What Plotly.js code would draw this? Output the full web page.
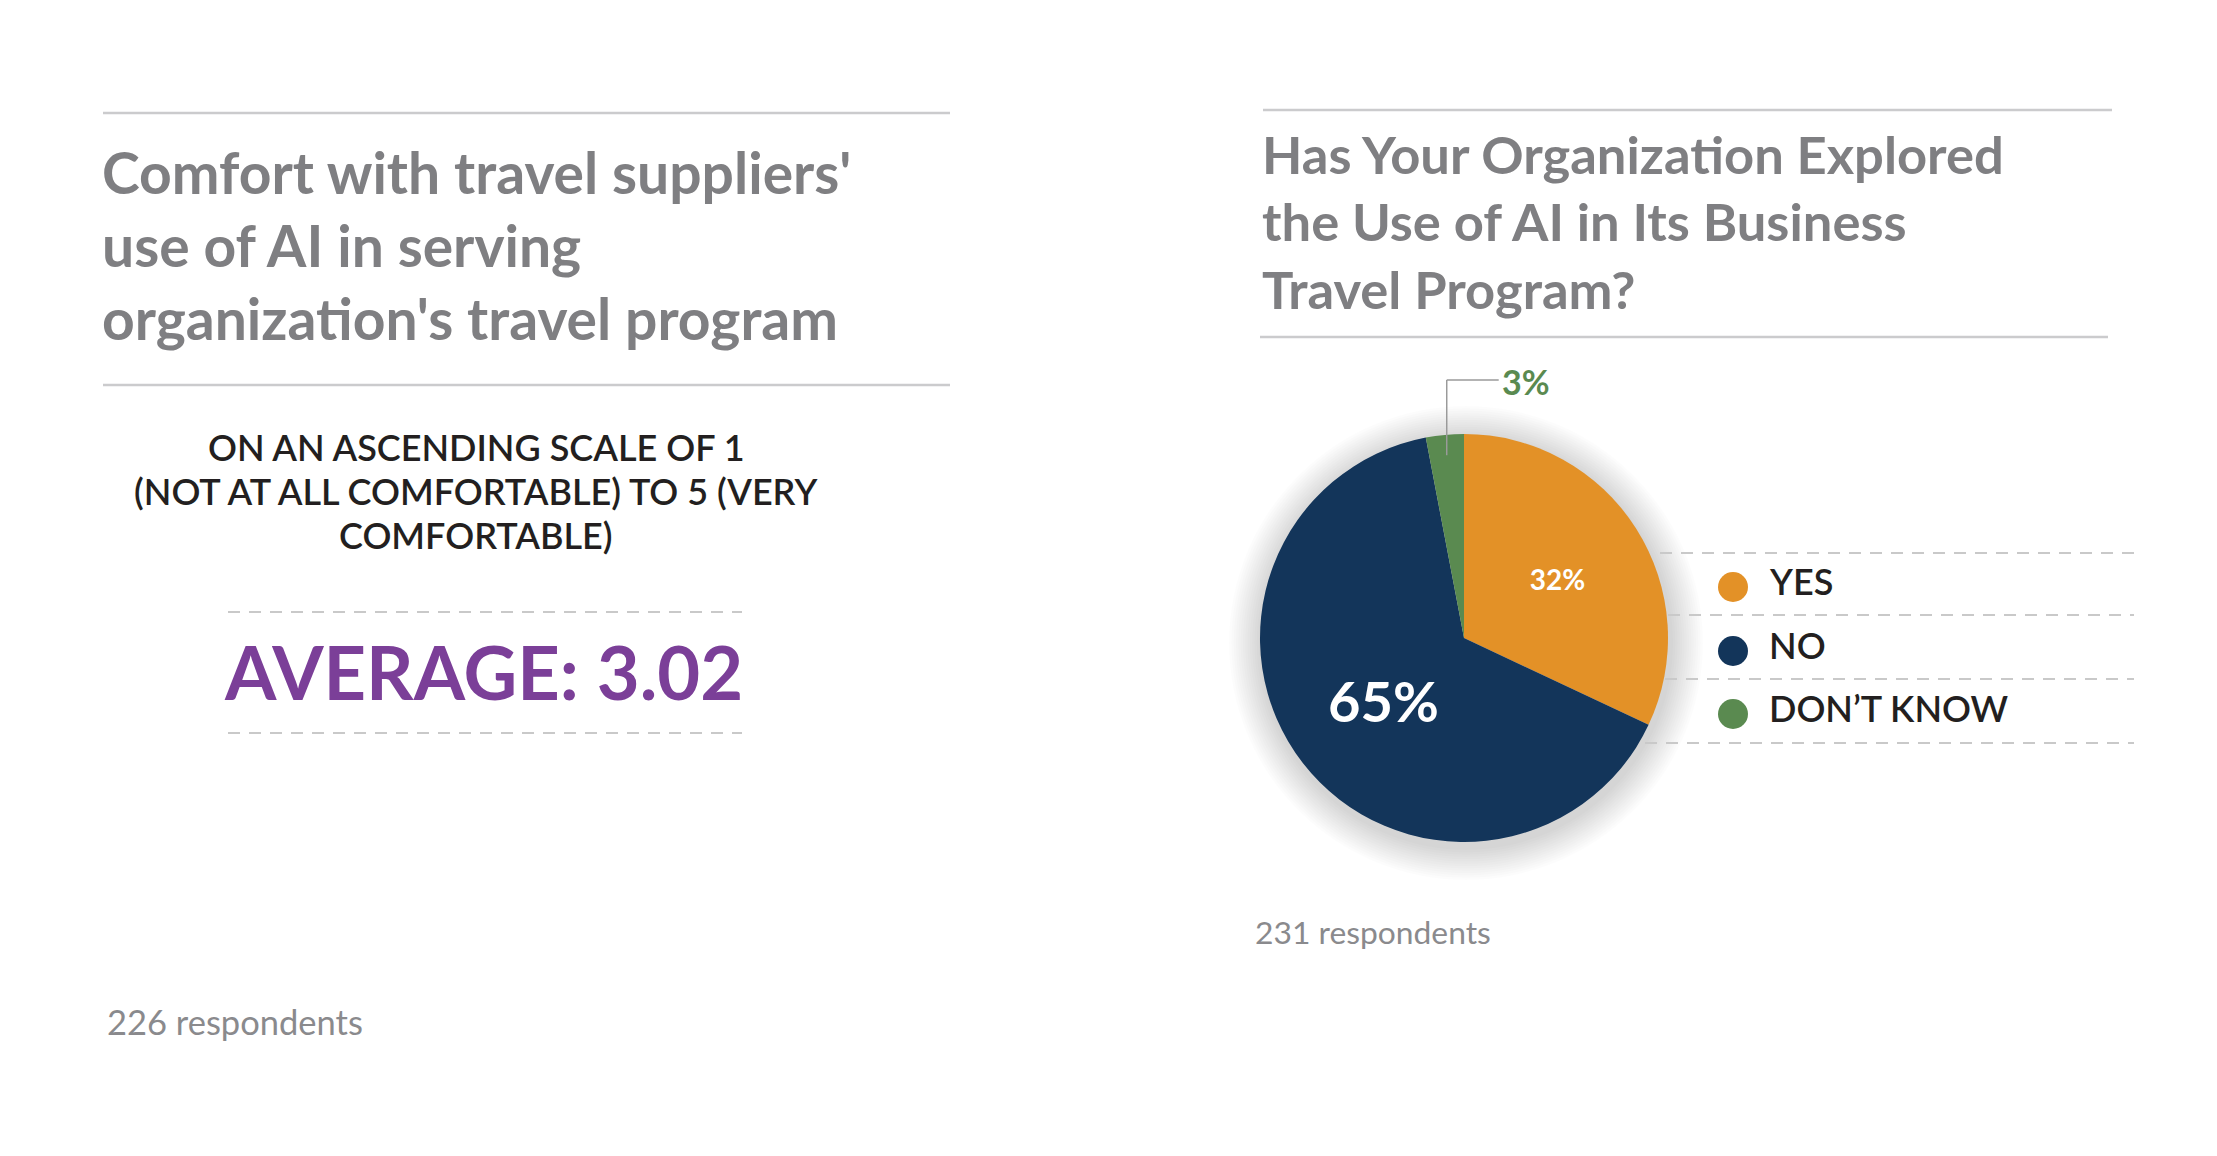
<!DOCTYPE html>
<html><head><meta charset="utf-8">
<script src="https://cdn.plot.ly/plotly-3.0.1.min.js"></script>
<style>html,body{margin:0;padding:0;background:#fff;} #chart{width:2217px;height:1156px;}</style>
</head><body><div id="chart"></div>
<script>
const W = 2217, H = 1156;

// ---- data ----
const leftTitle = ["Comfort with travel suppliers'", "use of AI in serving", "organization's travel program"];
const leftSubtitle = ["ON AN ASCENDING SCALE OF 1", "(NOT AT ALL COMFORTABLE) TO 5 (VERY", "COMFORTABLE)"];
const averageLabel = "AVERAGE:";
const averageValue = 3.02;
const leftRespondents = 226;

const rightTitle = ["Has Your Organization Explored", "the Use of AI in Its Business", "Travel Program?"];
const categories = ["YES", "NO", "DON\u2019T KNOW"];
const values = [32, 65, 3];
const colors = ["#E39127", "#13355A", "#5A8A50"];
const rightRespondents = 231;

// ---- helpers ----
const px = x => x / W;
const py = y => 1 - y / H;
const TITLE_GRAY = "#7F7F82";
const RULE = "#CBCBCD";
const DASH = "#C9C9C9";

const annotations = [];
const shapes = [];
function txt(text, x, y, size, color, opts = {}) {
  annotations.push({
    text, x: px(x), y: py(y), xref: 'paper', yref: 'paper', showarrow: false,
    xanchor: opts.xanchor || 'left', yanchor: 'middle',
    font: {family: 'Lato', size, color, weight: opts.weight || 400}
  });
}
function hline(x0, x1, y, color, width, dash) {
  shapes.push({type: 'line', xref: 'paper', yref: 'paper', x0: px(x0), x1: px(x1), y0: py(y), y1: py(y),
    line: {color, width, dash: dash || 'solid'}, layer: 'below'});
}

// ---- left panel ----
hline(103, 950, 113, RULE, 2.5);
hline(103, 950, 385, RULE, 2.5);
const ltY = [172, 245, 318];
leftTitle.forEach((t, i) => txt(t, 100, ltY[i], 57, TITLE_GRAY, {weight: 700}));
const lsY = [447, 491, 535];
leftSubtitle.forEach((t, i) => txt(t, 476, lsY[i], 36, "#231F20", {xanchor: 'center', weight: 600}));
hline(228, 742, 612, DASH, 2, '12px,9px');
hline(228, 742, 733, DASH, 2, '12px,9px');
txt(averageLabel + " " + averageValue.toFixed(2), 483, 671, 74, "#7B3F98", {xanchor: 'center', weight: 700});
txt(leftRespondents + " respondents", 105, 1021, 34.5, "#8A8A8D");

// ---- right panel ----
hline(1263, 2112, 110, RULE, 2.5);
hline(1260, 2108, 337, RULE, 2.5);
const rtY = [154, 221, 288];
rightTitle.forEach((t, i) => txt(t, 1260, rtY[i], 52.5, TITLE_GRAY, {weight: 700}));
txt(rightRespondents + " respondents", 1253, 932, 31.8, "#8A8A8D");

// pie geometry
const cx = 1464, cy = 638, R = 204;

// soft shadow halo behind pie
const nHalo = 14;
for (let k = 0; k < nHalo; k++) {
  const r = R + 33 - k * 2.3;
  shapes.push({type: 'circle', xref: 'paper', yref: 'paper', layer: 'below',
    x0: px(cx + 2 - r), x1: px(cx + 2 + r), y0: py(cy + 5 + r), y1: py(cy + 5 - r),
    fillcolor: 'rgba(0,0,0,0.010)', line: {width: 0}});
}

// legend dashed separators
const legStarts = [1660, 1668, 1665, 1645];
const legLines = [553, 615, 679, 743];
legLines.forEach((y, i) => hline(legStarts[i], 2134, y, DASH, 2, '12px,9px'));
// legend items
const legY = [583, 647, 710];
categories.forEach((c, i) => {
  const r = 15;
  shapes.push({type: 'circle', xref: 'paper', yref: 'paper', layer: 'above',
    x0: px(1733 - r), x1: px(1733 + r), y0: py(legY[i] + 4 + r), y1: py(legY[i] + 4 - r),
    fillcolor: colors[i], line: {width: 0}});
  txt(c, 1767, legY[i] - 2, 36, "#231F20", {weight: 600});
});

// leader for the small slice, derived from data
const total = values.reduce((a, b) => a + b, 0);
let cum = 0;
const mids = values.map(v => { const m = (cum + v / 2) / total * 2 * Math.PI; cum += v; return m; });
const small = 2;
const ax = cx + 0.9 * R * Math.sin(mids[small]);
const ay = cy - 0.9 * R * Math.cos(mids[small]);
const ly = 380;
shapes.push({type: 'line', xref: 'paper', yref: 'paper', x0: px(ax), x1: px(ax), y0: py(ay), y1: py(ly),
  line: {color: '#9A9A9A', width: 1.5}, layer: 'above'});
shapes.push({type: 'line', xref: 'paper', yref: 'paper', x0: px(ax), x1: px(ax + 52), y0: py(ly), y1: py(ly),
  line: {color: '#9A9A9A', width: 1.5}, layer: 'above'});
txt(values[small] + "%", ax + 53, ly + 1, 34, colors[small], {weight: 700});

const pie = {
  type: 'pie', values: values, labels: categories, sort: false, direction: 'clockwise', rotation: 0,
  marker: {colors: colors, line: {width: 0}},
  texttemplate: '%{value}%', textposition: ['inside', 'inside', 'none'],
  insidetextorientation: 'horizontal',
  textfont: {family: 'Lato', size: [28, 56, 34], color: '#FFFFFF', weight: 700},
  hoverinfo: 'none', showlegend: false,
  domain: {x: [px(cx - R), px(cx + R)], y: [py(cy + R), py(cy - R)]}
};

Plotly.newPlot('chart', [pie], {
  width: W, height: H, margin: {l: 0, r: 0, t: 0, b: 0},
  paper_bgcolor: '#FFFFFF', plot_bgcolor: '#FFFFFF', showlegend: false,
  annotations: annotations, shapes: shapes
}, {staticPlot: true});
</script></body></html>
